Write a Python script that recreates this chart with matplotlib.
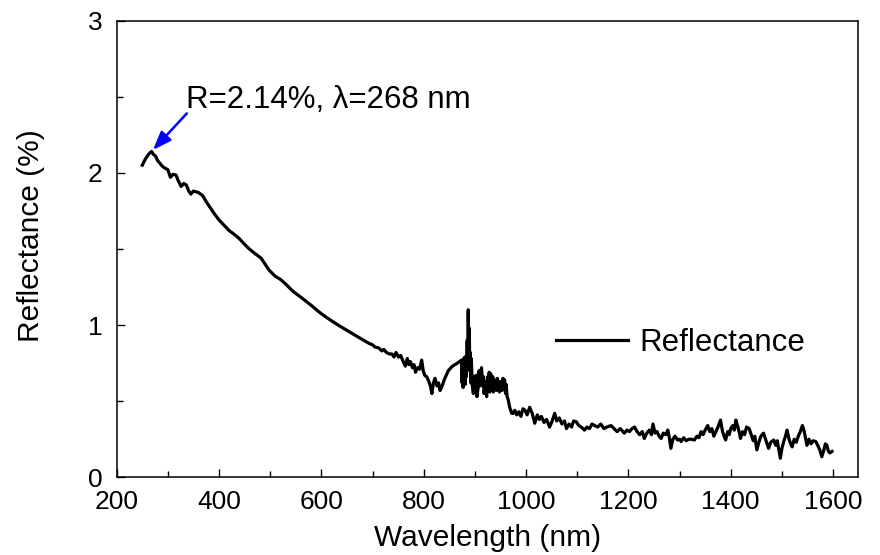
import matplotlib
matplotlib.use("Agg")
import matplotlib.pyplot as plt
from matplotlib.ticker import MultipleLocator

plt.rcParams['font.family'] = ['Liberation Sans', 'DejaVu Sans']

# Measured reflectance spectrum (wavelength in nm, reflectance in %)
wavelength = [
    250, 256, 262, 268, 272, 276, 280, 285, 290, 295, 300, 305, 310, 316, 320,
    326, 331, 336, 341, 345, 350, 355, 360, 368, 375, 381, 390, 400, 410, 420,
    430, 439, 450, 459, 470, 482, 490, 498, 510, 520, 530, 545, 563, 580, 595,
    610, 628, 645, 660, 675, 693, 700, 705, 712, 718, 722, 727, 733, 738, 742,
    746, 751, 755, 760, 764, 768, 771, 774, 778, 781, 784, 788, 792, 796, 799,
    802, 806, 810, 813, 816, 819, 822, 826, 829, 832, 836, 840, 848, 856, 866,
    874, 875, 876, 877, 878, 879, 880, 881, 882, 883, 884, 885, 886, 887, 888,
    889, 890, 891, 892, 893, 895, 897, 899, 900, 902, 904, 906, 908, 910, 911,
    913, 915, 917, 918, 920, 921, 923, 925, 926, 928, 929, 931, 933, 935, 936,
    938, 939, 942, 944, 945, 947, 948, 951, 953, 955, 957, 958, 960, 961, 963,
    965, 968, 972, 975, 978, 982, 986, 990,
    994, 998, 1002, 1007, 1012, 1017, 1022, 1026, 1030, 1035, 1040, 1046, 1051,
    1056, 1060, 1065, 1070, 1075, 1079, 1084, 1089, 1093, 1098, 1103, 1108,
    1114, 1119, 1124, 1129, 1134, 1140, 1146, 1152, 1158, 1166, 1172, 1178,
    1184, 1192, 1197, 1202, 1207, 1212, 1217, 1222, 1227, 1231, 1236, 1241,
    1245, 1248, 1252, 1256, 1260, 1264, 1268, 1273, 1277, 1280, 1283, 1287,
    1291, 1296, 1300, 1303, 1308, 1313, 1318, 1323, 1329, 1334, 1338, 1342,
    1346, 1350, 1355, 1359, 1363, 1367, 1371, 1375, 1380, 1384, 1387, 1390,
    1394, 1397, 1400, 1404, 1407, 1410, 1414, 1417, 1419, 1423, 1427, 1431,
    1436, 1440, 1444, 1447, 1451, 1455, 1459, 1464, 1468, 1471, 1474, 1478,
    1484, 1488, 1491, 1494, 1497, 1500, 1504, 1507, 1510, 1514, 1517, 1520,
    1524, 1528, 1532, 1536, 1540, 1543, 1546, 1549, 1553, 1557, 1561, 1566,
    1570, 1574, 1578, 1582, 1585, 1588, 1591, 1594, 1598,
]
reflectance = [
    2.05, 2.09, 2.12, 2.14, 2.12, 2.11, 2.08, 2.06, 2.04, 2.03, 2.02, 1.97, 1.99, 1.985, 1.95,
    1.91, 1.93, 1.92, 1.88, 1.86, 1.88, 1.875, 1.87, 1.85, 1.81, 1.78, 1.735, 1.69, 1.655, 1.62,
    1.595, 1.57, 1.53, 1.50, 1.47, 1.44, 1.40, 1.36, 1.32, 1.30, 1.27, 1.22, 1.175, 1.13, 1.087,
    1.05, 1.01, 0.975, 0.945, 0.915, 0.88, 0.87, 0.855, 0.85, 0.83, 0.84, 0.82, 0.81, 0.81, 0.79,
    0.82, 0.79, 0.80, 0.76, 0.73, 0.78, 0.74, 0.76, 0.72, 0.74, 0.69, 0.72, 0.71, 0.77, 0.70,
    0.67, 0.66, 0.63, 0.60, 0.55, 0.62, 0.65, 0.60, 0.62, 0.57, 0.60, 0.64, 0.70, 0.73, 0.75,
    0.77, 0.62, 0.76, 0.59, 0.78, 0.64, 0.79, 0.61, 0.78, 0.66, 0.79, 0.90, 0.74, 1.10, 0.80,
    0.98, 0.70, 0.82, 0.62, 0.78, 0.60, 0.55, 0.66, 0.61, 0.67, 0.53, 0.58, 0.70, 0.60, 0.68,
    0.72, 0.60, 0.66, 0.55, 0.63, 0.58, 0.53, 0.66, 0.60, 0.69, 0.56, 0.68, 0.60, 0.66, 0.56,
    0.64, 0.60, 0.57, 0.65, 0.58, 0.63, 0.56, 0.63, 0.57, 0.65, 0.58, 0.64, 0.55, 0.61, 0.53,
    0.51, 0.46, 0.42, 0.42, 0.44, 0.41, 0.43, 0.40,
    0.45, 0.44, 0.41, 0.46, 0.42, 0.355, 0.41, 0.38, 0.40, 0.36, 0.38, 0.33, 0.37,
    0.42, 0.37, 0.39, 0.35, 0.37, 0.32, 0.35, 0.33, 0.37, 0.365, 0.34, 0.33,
    0.31, 0.33, 0.32, 0.35, 0.34, 0.33, 0.35, 0.32, 0.33, 0.34, 0.32, 0.30,
    0.32, 0.29, 0.31, 0.30, 0.32, 0.33, 0.30, 0.28, 0.30, 0.255, 0.29, 0.31,
    0.28, 0.35, 0.29, 0.30, 0.27, 0.255, 0.29, 0.28, 0.31, 0.26, 0.19, 0.25,
    0.27, 0.245, 0.25, 0.235, 0.26, 0.24, 0.25, 0.25, 0.245, 0.27, 0.26, 0.30,
    0.28, 0.31, 0.34, 0.30, 0.32, 0.27, 0.30, 0.33, 0.376, 0.30, 0.27, 0.245,
    0.30, 0.28, 0.32, 0.34, 0.31, 0.376, 0.33, 0.29, 0.255, 0.30, 0.28, 0.33,
    0.32, 0.28, 0.24, 0.27, 0.18, 0.23, 0.27, 0.29, 0.25, 0.22, 0.19, 0.23,
    0.245, 0.21, 0.24, 0.18, 0.125, 0.19, 0.24, 0.27, 0.31, 0.25, 0.22, 0.20,
    0.25, 0.23, 0.27, 0.30, 0.34, 0.31, 0.26, 0.21, 0.25, 0.22, 0.24, 0.235,
    0.21, 0.18, 0.135, 0.18, 0.22, 0.21, 0.17, 0.16, 0.17,
]

peak_wavelength = 268
peak_reflectance = 2.14

x_ticks = [200, 400, 600, 800, 1000, 1200, 1400, 1600]
y_ticks = [0, 1, 2, 3]

fig = plt.figure(figsize=(8.8, 5.55), dpi=100)
ax = fig.add_axes([0.1326, 0.14, 0.842, 0.823])

ax.plot(wavelength, reflectance, color='black', lw=2.3, label='Reflectance')

ax.set_xlim(200, 1648)
ax.set_ylim(0, 3)
ax.set_xticks(x_ticks)
ax.set_yticks(y_ticks)
ax.xaxis.set_minor_locator(MultipleLocator(100))
ax.yaxis.set_minor_locator(MultipleLocator(0.5))
ax.tick_params(which='major', direction='in', length=6, width=1, labelsize=19)
ax.tick_params(which='minor', direction='in', length=4, width=1)
ax.tick_params(axis='x', which='major', pad=9)
ax.tick_params(axis='y', which='major', pad=10)
for sp in ax.spines.values():
    sp.set_linewidth(1.1)

ax.set_xlabel('Wavelength (nm)', fontsize=21.5, labelpad=7)
ax.set_ylabel('Reflectance (%)', fontsize=21.5)
ax.yaxis.set_label_coords(-0.097, 0.53)

# Peak annotation
ax.annotate('', xy=(peak_wavelength + 3, peak_reflectance + 0.01),
            xytext=(337, 2.39),
            arrowprops=dict(arrowstyle='-|>,head_length=0.8,head_width=0.3',
                            color='blue', lw=1.8, mutation_scale=14,
                            shrinkA=0, shrinkB=0))
ax.text(335, 2.48, f'R={peak_reflectance:.2f}%, λ={peak_wavelength} nm',
        fontsize=22.5, ha='left', va='center')

ax.legend(loc='center left', bbox_to_anchor=(0.593, 0.294), frameon=False,
          fontsize=22.5, handlelength=2.3, handletextpad=0.35, borderpad=0,
          borderaxespad=0)

fig.savefig('out.png', dpi=100)
